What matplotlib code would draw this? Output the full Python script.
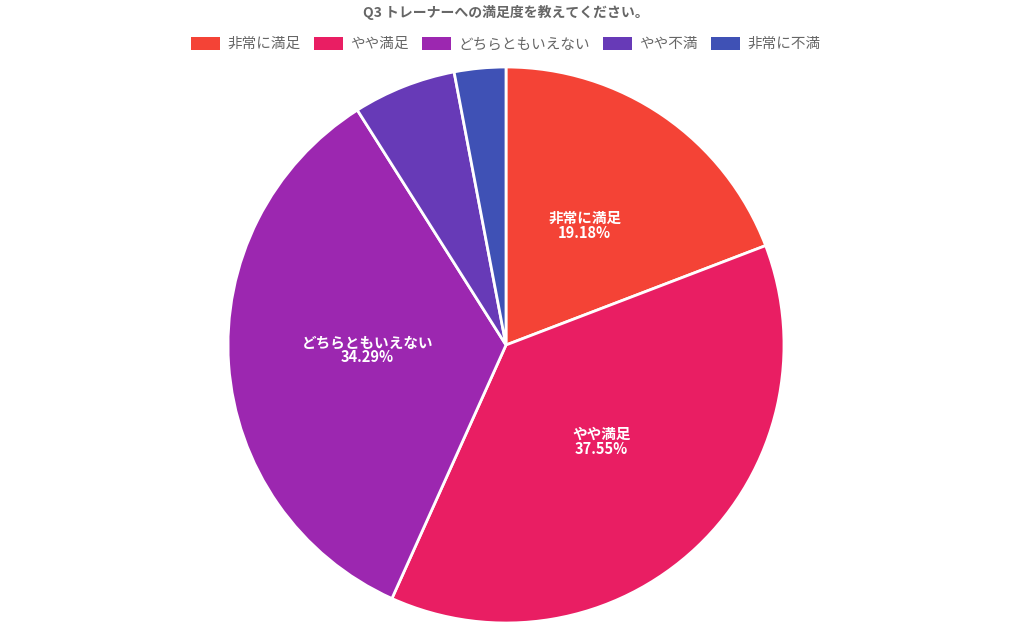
import matplotlib
matplotlib.use('Agg')
import matplotlib.pyplot as plt
from matplotlib.patches import Patch
import numpy as np

plt.rcParams['font.family'] = ['Noto Sans CJK JP', 'DejaVu Sans']

# data
labels = ['非常に満足', 'やや満足', 'どちらともいえない', 'やや不満', '非常に不満']
values = [19.18, 37.55, 34.29, 5.99, 2.99]
colors = ['#F44336', '#E91E63', '#9C27B0', '#673AB7', '#3F51B5']
title = 'Q3 トレーナーへの満足度を教えてください。'

W, H = 1012, 625
fig = plt.figure(figsize=(W/100, H/100), dpi=100)

cx, cy, r = 506, 345, 278
ax = fig.add_axes([(cx-r)/W, (H-cy-r)/H, 2*r/W, 2*r/H])

wedges, texts = ax.pie(values, colors=colors, startangle=90, counterclock=False,
                       radius=1, wedgeprops=dict(edgecolor='white', linewidth=2))

# slice labels (small slices left unlabelled as in the original)
total = sum(values)
cum = 0
for lab, v in zip(labels, values):
    mid = (cum + v/2) / total * 360
    cum += v
    if v / total < 0.08:
        continue
    a = np.deg2rad(90 - mid)
    x, y = 0.5*np.cos(a), 0.5*np.sin(a) + 0.018
    ax.text(x, y, '%s\n%.2f%%' % (lab, v), ha='center', va='center',
            color='white', fontsize=10.5, fontweight='bold', linespacing=0.95)

ax.set_xlim(-1, 1)
ax.set_ylim(-1, 1)
ax.set_aspect('equal')
ax.axis('off')

fig.text(0.5, 1 - 12/H, title, ha='center', va='center', fontsize=10,
         fontweight='bold', color='#666666')

handles = [Patch(facecolor=c, edgecolor='none') for c in colors]
fig.legend(handles, labels, loc='center', bbox_to_anchor=(0.5, 1 - 44/H), ncol=5,
           frameon=False, fontsize=10.5, labelcolor='#666666',
           handlelength=2.0, handleheight=1.0, handletextpad=0.5, columnspacing=0.9)

plt.savefig('out.png', dpi=100)
